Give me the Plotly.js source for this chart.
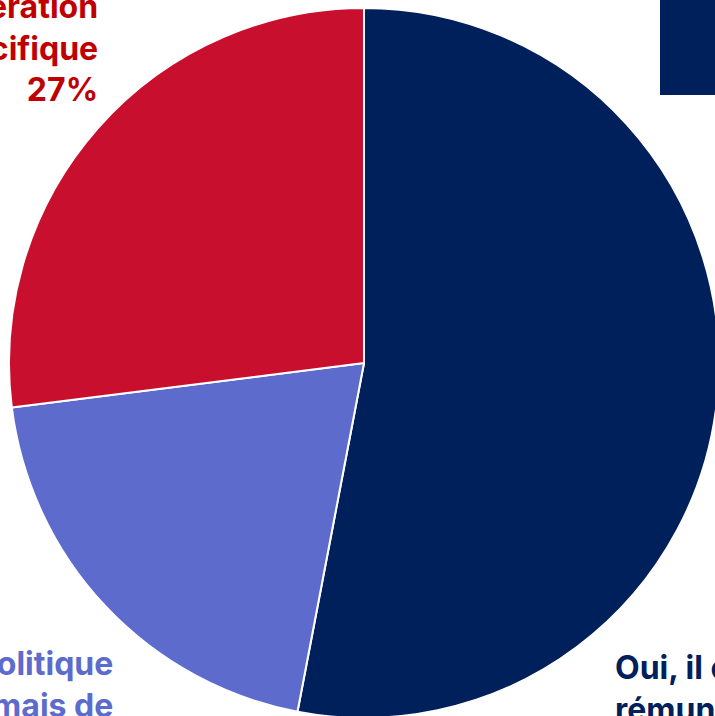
<!DOCTYPE html>
<html>
<head>
<meta charset="utf-8">
<script src="https://cdn.plot.ly/plotly-3.0.1.min.js"></script>
<style>
html, body { margin: 0; padding: 0; overflow: hidden; background: #ffffff; }
#chart { width: 730px; height: 730px; }
</style>
</head>
<body>
<div id="chart"></div>
<script>
// Data
const categories = [
  "Oui, il existe une rémunération spécifique",
  "Non, pas de politique spécifique, mais de bonnes pratiques",
  "Non, pas de rémunération spécifique"
];
const values = [53, 20, 27];
const sliceColors = ["#00205B", "#5D6BCC", "#C8102E"];
const labelColors = ["#00205B", "#5D6BCC", "#C00000"];
const labelTexts = [
  "Oui, il existe une<br>rémunération spécifique<br>53%",
  "Non, pas de politique<br>spécifique, mais de<br>bonnes pratiques<br>20%",
  "Non, pas de rémunération<br>spécifique<br>27%"
];

const font = "Inter, 'Liberation Sans', Arial, sans-serif";

const trace = {
  type: "pie",
  labels: categories,
  values: values,
  sort: false,
  direction: "clockwise",
  rotation: 0,
  marker: { colors: sliceColors, line: { color: "#ffffff", width: 2 } },
  textinfo: "none",
  hoverinfo: "label+percent",
  showlegend: false
};

// pixel -> paper helpers (plot area: left 9, top 8, size 710)
const px = x => (x - 9) / 710;
const py = y => 1 - (y - 8) / 710;

const annotations = [
  { text: "<b>" + labelTexts[2] + "</b>", x: px(100), y: py(-15), xanchor: "right", yanchor: "top", align: "right", color: labelColors[2] },
  { text: "<b>" + labelTexts[1] + "</b>", x: px(115), y: py(642), xanchor: "right", yanchor: "top", align: "right", color: labelColors[1] },
  { text: "<b>" + labelTexts[0] + "</b>", x: px(613), y: py(646), xanchor: "left", yanchor: "top", align: "left", color: labelColors[0] }
].map(a => ({
  xref: "paper", yref: "paper", x: a.x, y: a.y, xanchor: a.xanchor, yanchor: a.yanchor,
  text: a.text, align: a.align, showarrow: false,
  font: { family: font, size: 32, color: a.color }
}));

const layout = {
  width: 730,
  height: 730,
  margin: { l: 9, r: 11, t: 8, b: 12 },
  paper_bgcolor: "#ffffff",
  plot_bgcolor: "#ffffff",
  font: { family: font },
  annotations: annotations,
  shapes: [
    { type: "rect", xref: "paper", yref: "paper", x0: px(660), x1: px(740), y0: py(95), y1: py(-20),
      fillcolor: "#00205B", line: { width: 0 } }
  ]
};

Plotly.newPlot("chart", [trace], layout, { displayModeBar: false, staticPlot: true });
</script>
</body>
</html>
